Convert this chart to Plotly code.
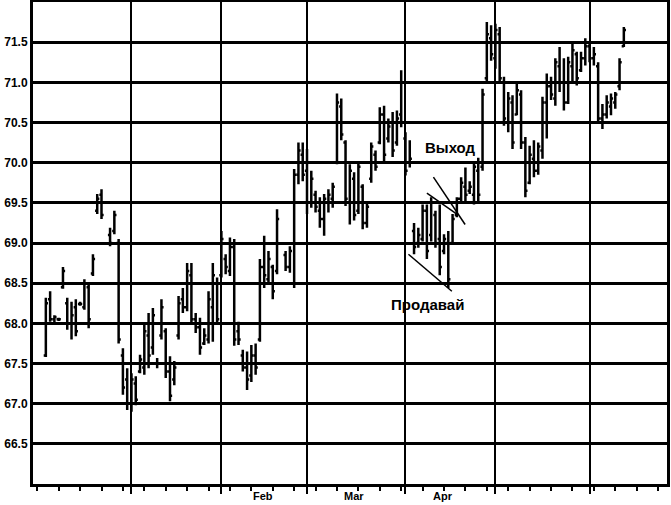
import plotly.graph_objects as go

# ---- data ----
dates = [
    "1993-12-06", "1993-12-07", "1993-12-08", "1993-12-09", "1993-12-10",
    "1993-12-13", "1993-12-14", "1993-12-15", "1993-12-16", "1993-12-17",
    "1993-12-20", "1993-12-21", "1993-12-22", "1993-12-23",
    "1993-12-27", "1993-12-28", "1993-12-29", "1993-12-30", "1993-12-31",
    "1994-01-03", "1994-01-04", "1994-01-05", "1994-01-06", "1994-01-07",
    "1994-01-10", "1994-01-11", "1994-01-12", "1994-01-13", "1994-01-14",
    "1994-01-17", "1994-01-18", "1994-01-19", "1994-01-20", "1994-01-21",
    "1994-01-24", "1994-01-25", "1994-01-26", "1994-01-27", "1994-01-28",
    "1994-01-31", "1994-02-01", "1994-02-02", "1994-02-03", "1994-02-04",
    "1994-02-07", "1994-02-08", "1994-02-09", "1994-02-10", "1994-02-11",
    "1994-02-14", "1994-02-15", "1994-02-16", "1994-02-17", "1994-02-18",
    "1994-02-22", "1994-02-23", "1994-02-24", "1994-02-25",
    "1994-02-28", "1994-03-01", "1994-03-02", "1994-03-03", "1994-03-04",
    "1994-03-07", "1994-03-08", "1994-03-09", "1994-03-10", "1994-03-11",
    "1994-03-14", "1994-03-15", "1994-03-16", "1994-03-17", "1994-03-18",
    "1994-03-21", "1994-03-22", "1994-03-23", "1994-03-24", "1994-03-25",
    "1994-03-28", "1994-03-29", "1994-03-30", "1994-03-31", "1994-04-01",
    "1994-04-04", "1994-04-05", "1994-04-06", "1994-04-07", "1994-04-08",
    "1994-04-11", "1994-04-12", "1994-04-13", "1994-04-14", "1994-04-15",
    "1994-04-18", "1994-04-19", "1994-04-20", "1994-04-21", "1994-04-22",
    "1994-04-25", "1994-04-26", "1994-04-27", "1994-04-28", "1994-04-29",
    "1994-05-02", "1994-05-03", "1994-05-04", "1994-05-05", "1994-05-06",
    "1994-05-09", "1994-05-10", "1994-05-11", "1994-05-12", "1994-05-13",
    "1994-05-16", "1994-05-17", "1994-05-18", "1994-05-19", "1994-05-20",
    "1994-05-23", "1994-05-24", "1994-05-25", "1994-05-26", "1994-05-27",
    "1994-05-30", "1994-05-31", "1994-06-01", "1994-06-02", "1994-06-03",
    "1994-06-06", "1994-06-07", "1994-06-08", "1994-06-09", "1994-06-10",
    "1994-06-13",
]
high = [
    68.32, 68.40, 68.10, 68.07, 68.70,
    68.32, 68.27, 68.30, 68.27, 68.55,
    68.48, 68.86, 69.61, 69.67,
    69.19, 69.40, 69.05, 67.69, 67.44,
    67.38, 67.34, 67.61, 67.98, 68.13,
    68.19, 67.57, 68.30, 67.94, 67.59,
    67.53, 68.34, 68.44, 68.75, 68.75,
    68.13, 68.07, 67.94, 68.40, 68.75,
    68.57, 69.15, 68.86, 69.07, 69.05,
    68.02, 67.67, 67.65, 67.73, 67.75,
    68.80, 69.09, 68.90, 68.73, 69.42,
    68.90, 68.96, 69.92, 70.25,
    70.25, 70.17, 69.90, 69.65, 69.57,
    69.61, 69.67, 69.75, 70.86, 70.80,
    70.28, 69.98, 69.88, 70.02, 69.73,
    69.52, 70.25, 70.15, 70.69, 70.71,
    70.55, 70.63, 70.65, 71.15, 70.38,
    70.28, 69.25, 69.19, 69.48, 69.48,
    69.57, 69.40, 69.48, 69.11, 69.15,
    69.36, 69.57, 69.82, 69.94, 69.77,
    70.02, 70.06, 70.92, 71.75, 71.71,
    71.73, 71.69, 71.07, 70.88, 70.84,
    70.98, 70.90, 70.32, 70.21, 70.28,
    70.25, 70.82, 71.11, 71.07, 71.30,
    71.44, 71.30, 71.32, 71.48, 71.38,
    71.38, 71.55, 71.50, 71.44, 71.25,
    70.73, 70.84, 70.86, 70.88, 71.30,
    71.69,
]
low = [
    67.58, 68.02, 68.00, 68.03, 68.43,
    67.92, 67.80, 67.84, 68.22, 68.17,
    67.94, 68.59, 69.36, 69.30,
    68.96, 69.11, 67.75, 67.11, 66.92,
    66.90, 66.98, 67.38, 67.36, 67.44,
    67.61, 67.44, 67.80, 67.32, 67.03,
    67.23, 67.80, 68.13, 68.15, 67.98,
    67.88, 67.61, 67.73, 67.75, 67.77,
    67.98, 68.57, 68.61, 68.59, 67.72,
    67.73, 67.40, 67.17, 67.27, 67.36,
    67.77, 68.44, 68.48, 68.30, 68.61,
    68.65, 68.63, 68.44, 69.73,
    69.77, 69.36, 69.44, 69.38, 69.19,
    69.09, 69.38, 69.44, 69.98, 70.28,
    69.46, 69.23, 69.28, 69.36, 69.17,
    69.19, 69.75, 69.90, 70.23, 70.02,
    70.25, 70.07, 70.21, 70.44, 69.84,
    69.94, 68.86, 68.94, 69.02, 68.80,
    69.02, 68.94, 68.60, 68.86, 68.44,
    68.98, 69.32, 69.52, 69.52, 69.61,
    69.48, 69.49, 69.90, 71.00, 71.27,
    71.17, 71.00, 70.46, 70.38, 70.17,
    70.59, 70.17, 69.57, 69.73, 69.82,
    69.85, 70.05, 70.30, 70.78, 70.71,
    70.88, 70.65, 70.73, 71.00, 70.96,
    71.13, 71.21, 71.25, 71.21, 70.50,
    70.42, 70.55, 70.59, 70.67, 70.90,
    71.44,
]
open_ = [
    67.60, 68.30, 68.05, 68.05, 68.45,
    68.25, 68.00, 68.20, 68.24, 68.20,
    68.45, 68.62, 69.40, 69.60,
    69.10, 69.15, 69.00, 67.60, 67.30,
    67.00, 67.25, 67.40, 67.45, 67.85,
    67.70, 67.50, 67.85, 67.90, 67.40,
    67.30, 67.85, 68.30, 68.20, 68.60,
    68.05, 67.95, 67.75, 67.80, 68.20,
    68.50, 68.60, 68.80, 68.65, 68.95,
    67.90, 67.60, 67.45, 67.35, 67.60,
    67.80, 68.70, 68.55, 68.70, 68.65,
    68.85, 68.70, 68.50, 69.85,
    70.10, 69.90, 69.50, 69.60, 69.40,
    69.30, 69.50, 69.55, 70.00, 70.70,
    70.25, 69.50, 69.80, 69.40, 69.70,
    69.25, 69.80, 70.10, 70.25, 70.60,
    70.30, 70.50, 70.25, 70.60, 70.30,
    70.00, 69.15, 69.00, 69.05, 69.40,
    69.10, 69.35, 69.05, 68.90, 69.00,
    69.00, 69.35, 69.55, 69.70, 69.65,
    69.60, 69.90, 69.95, 71.05, 71.55,
    71.30, 71.60, 71.00, 70.50, 70.75,
    70.60, 70.85, 70.25, 69.75, 70.05,
    69.90, 70.15, 70.75, 70.95, 70.80,
    71.20, 71.00, 70.75, 71.20, 71.35,
    71.15, 71.30, 71.45, 71.30, 71.20,
    70.55, 70.60, 70.70, 70.75, 70.95,
    71.45,
]
close = [
    68.25, 68.05, 68.08, 68.05, 68.65,
    68.00, 68.10, 67.90, 68.24, 68.50,
    68.05, 68.80, 69.55, 69.35,
    69.00, 69.35, 67.80, 67.20, 67.00,
    67.30, 67.05, 67.55, 67.90, 67.60,
    68.10, 67.50, 68.20, 67.40, 67.10,
    67.45, 68.25, 68.20, 68.65, 68.05,
    67.95, 67.70, 67.85, 68.30, 68.60,
    68.05, 69.05, 68.70, 68.95, 67.80,
    67.80, 67.45, 67.30, 67.60, 67.45,
    68.70, 68.60, 68.80, 68.40, 69.30,
    68.70, 68.90, 69.85, 70.15,
    69.85, 69.50, 69.80, 69.45, 69.30,
    69.55, 69.60, 69.70, 70.75, 70.35,
    69.55, 69.90, 69.35, 69.95, 69.25,
    69.45, 70.20, 69.95, 70.60, 70.10,
    70.45, 70.15, 70.55, 70.50, 69.90,
    70.05, 68.95, 69.10, 69.40, 68.90,
    69.50, 69.00, 68.70, 69.05, 68.55,
    69.30, 69.55, 69.75, 69.60, 69.70,
    69.95, 69.60, 70.85, 71.60, 71.35,
    71.65, 71.05, 70.55, 70.80, 70.25,
    70.90, 70.25, 69.65, 70.10, 69.90,
    70.20, 70.75, 70.95, 70.85, 71.25,
    71.00, 70.75, 71.25, 71.40, 71.05,
    71.30, 71.45, 71.30, 71.35, 70.55,
    70.60, 70.75, 70.80, 70.85, 71.25,
    71.65,
]

# axis definitions
x_range = ["1993-12-01", "1994-06-27 02:00"]
month_starts = ["1994-01-03", "1994-02-01", "1994-03-01", "1994-04-01", "1994-05-02", "1994-06-01"]
month_names = ["Feb", "Mar", "Apr"]
month_mids = ["1994-02-14 18:00", "1994-03-16 00:00", "1994-04-13 19:00"]
y_ticks = [66.5, 67.0, 67.5, 68.0, 68.5, 69.0, 69.5, 70.0, 70.5, 71.0, 71.5]
y_labels = ["66.5", "67.0", "67.5", "68.0", "68.5", "69.0", "69.5", "70.0", "70.5", "71.0", "71.5"]

# hand-drawn trend lines (start date, start price, end date, end price)
trend_lines = [
    ("1994-04-01 16:30", 68.86, "1994-04-15 20:00", 68.40),
    ("1994-04-08 00:00", 69.62, "1994-04-19 00:00", 69.36),
    ("1994-04-11 12:45", 69.82, "1994-04-20 22:20", 69.23),
]
labels = [
    ("Выход", "1994-04-15 10:00", 70.19),
    ("Продавай", "1994-04-08 04:00", 68.24),
]

fig = go.Figure()
fig.add_trace(go.Ohlc(
    x=dates, open=open_, high=high, low=low, close=close,
    increasing=dict(line=dict(color="black", width=2.5)),
    decreasing=dict(line=dict(color="black", width=2.5)),
    tickwidth=0.5, showlegend=False, hoverinfo="skip",
))

for x0, y0, x1, y1 in trend_lines:
    fig.add_shape(type="line", x0=x0, y0=y0, x1=x1, y1=y1,
                  xref="x", yref="y", line=dict(color="black", width=1.5))

for text, x, y in labels:
    fig.add_annotation(text=text, x=x, y=y, xref="x", yref="y", showarrow=False,
                       font=dict(family="Liberation Sans", size=15, color="black", weight="bold"))

for name, mid in zip(month_names, month_mids):
    fig.add_annotation(text=name, x=mid, y=0, xref="x", yref="paper",
                       yanchor="middle", yshift=-12, showarrow=False,
                       font=dict(family="Liberation Sans", size=11, color="black", weight="bold"))

fig.update_layout(
    width=671, height=505,
    margin=dict(l=33, r=4, t=2, b=21),
    paper_bgcolor="white", plot_bgcolor="white",
    xaxis=dict(
        type="date", range=x_range, automargin=False,
        rangebreaks=[dict(bounds=["sat", "mon"])],
        rangeslider=dict(visible=False),
        tickmode="array", tickvals=month_starts, showticklabels=False,
        ticks="outside", ticklen=7, tickwidth=2, tickcolor="black",
        showgrid=True, gridcolor="black", gridwidth=2,
        showline=True, linecolor="black", linewidth=3, mirror=True,
        minor=dict(tick0="1993-12-02", dtick=7 * 86400000, ticks="outside",
                   ticklen=4, tickwidth=1.5, tickcolor="black", showgrid=False),
        zeroline=False,
    ),
    yaxis=dict(
        range=[66, 72], tickmode="array", tickvals=y_ticks, ticktext=y_labels,
        automargin=False,
        showgrid=True, gridcolor="black", gridwidth=2.5,
        showline=True, linecolor="black", linewidth=3, mirror=True,
        ticks="", tickfont=dict(family="Liberation Sans", size=12, color="black", weight="bold"),
        zeroline=False,
    ),
)

fig.write_html("out.html", config={"displayModeBar": False},
               post_script="document.body.style.margin='0';")
